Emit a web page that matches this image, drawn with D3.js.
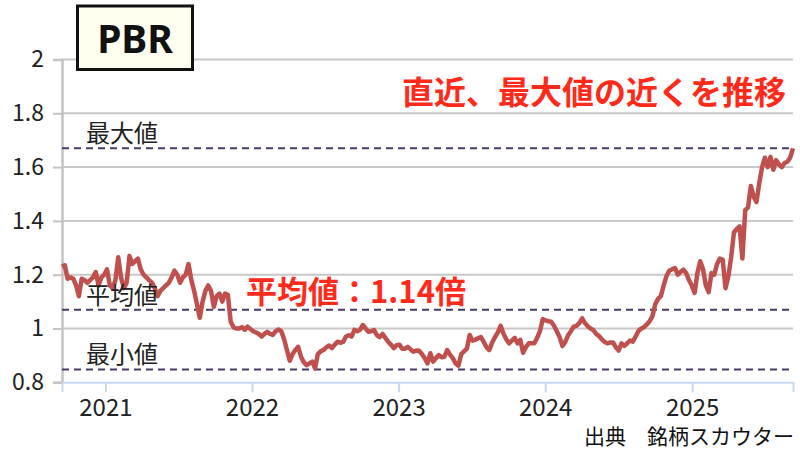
<!DOCTYPE html>
<html>
<head>
<meta charset="utf-8">
<script src="https://cdn.jsdelivr.net/npm/d3@7"></script>
<style>
  body { margin: 0; background: #fff; }
  svg { display: block; font-family: "Noto Sans CJK JP", "Noto Sans", sans-serif; }
</style>
</head>
<body>
<div id="chart"></div>
<script>
// weekly PBR values, first week 2020-09-15
let startDate = '2020-09-15'
let stepDays = 7
let pbrValues = [
  1.23, 1.235, 1.185, 1.19, 1.185, 1.16, 1.12, 1.185, 1.18, 1.17,
  1.18, 1.19, 1.21, 1.16, 1.19, 1.20, 1.22, 1.16, 1.15, 1.18,
  1.265, 1.19, 1.15, 1.17, 1.27, 1.24, 1.25, 1.26, 1.22, 1.20,
  1.19, 1.18, 1.17, 1.15, 1.12, 1.14, 1.15, 1.16, 1.17, 1.19,
  1.215, 1.20, 1.17, 1.19, 1.20, 1.24, 1.18, 1.14, 1.09, 1.04,
  1.10, 1.14, 1.16, 1.14, 1.08, 1.12, 1.13, 1.10, 1.13, 1.125,
  1.025, 1.005, 1.00, 1.00, 1.005, 0.995, 1.007, 0.998, 0.99, 0.985,
  0.98, 0.97, 0.98, 0.988, 0.98, 0.976, 0.99, 0.996, 0.99, 0.96,
  0.92, 0.88, 0.905, 0.92, 0.932, 0.895, 0.875, 0.864, 0.87, 0.877,
  0.852, 0.905, 0.915, 0.92, 0.93, 0.937, 0.927, 0.94, 0.951, 0.947,
  0.95, 0.97, 0.975, 0.97, 0.995, 0.99, 0.995, 1.013, 1.00, 0.988,
  0.99, 0.994, 0.975, 0.968, 0.98, 0.965, 0.951, 0.94, 0.927, 0.938,
  0.94, 0.925, 0.925, 0.932, 0.922, 0.914, 0.918, 0.917, 0.905, 0.89,
  0.87, 0.908, 0.877, 0.89, 0.901, 0.893, 0.895, 0.92, 0.903, 0.89,
  0.87, 0.862, 0.905, 0.915, 0.925, 0.976, 0.955, 0.958, 0.964, 0.968,
  0.95, 0.93, 0.92, 0.948, 0.968, 0.985, 1.01, 0.982, 0.96, 0.945,
  0.955, 0.965, 0.945, 0.958, 0.91, 0.93, 0.945, 0.945, 0.945, 0.965,
  0.99, 1.035, 1.03, 1.027, 1.025, 1.01, 0.99, 0.968, 0.935, 0.95,
  0.975, 0.99, 1.007, 1.01, 1.02, 1.038, 1.02, 1.008, 1.00, 0.994,
  0.98, 0.972, 0.96, 0.95, 0.945, 0.948, 0.948, 0.93, 0.918, 0.945,
  0.935, 0.945, 0.955, 0.951, 0.97, 0.99, 1.00, 1.005, 1.015, 1.027,
  1.046, 1.09, 1.11, 1.12, 1.16, 1.195, 1.215, 1.22, 1.225, 1.20,
  1.21, 1.219, 1.206, 1.18, 1.16, 1.132, 1.206, 1.25, 1.22, 1.16,
  1.135, 1.206, 1.20, 1.24, 1.26, 1.256, 1.15, 1.194, 1.265, 1.357,
  1.37, 1.38, 1.26, 1.44, 1.45, 1.53, 1.49, 1.47, 1.54, 1.60,
  1.635, 1.60, 1.638, 1.59, 1.626, 1.61, 1.60, 1.615, 1.62, 1.635,
  1.67
]

let yTicks = [0.8, 1, 1.2, 1.4, 1.6, 1.8, 2]
let xTickYears = [2021, 2022, 2023, 2024, 2025]

let refLines = [
  { name: '最大値', value: 1.67 },
  { name: '平均値', value: 1.07 },
  { name: '最小値', value: 0.848 }
]
let avgNote = '平均値：1.14倍'
let headline = '直近、最大値の近くを推移'
let sourceNote = '出典　銘柄スカウター'
let titleText = 'PBR'

let width = 800,
    height = 450

let margin = {
  'top' : 59.5,
  'right' : 7,
  'bottom' : 67.7,
  'left' : 62
}

let parse = d3.timeParse('%Y-%m-%d')
let start = parse(startDate)
let series = pbrValues.map((v, i) => ({ date: d3.timeDay.offset(start, i * stepDays), value: v }))

let svg = d3.select('#chart').append('svg')
    .attr('width', width)
    .attr('height', height)

let x = d3.scaleTime()
    .domain(d3.extent(series, d => d.date))
    .range([margin.left, width - margin.right])

let y = d3.scaleLinear()
    .domain([0.8, 2])
    .range([height - margin.bottom, margin.top])

// horizontal grid
svg.append('g')
  .selectAll('line')
  .data(yTicks.slice(1))
  .enter().append('line')
    .attr('x1', margin.left)
    .attr('x2', width - margin.right)
    .attr('y1', d => y(d))
    .attr('y2', d => y(d))
    .attr('stroke', '#c8c8c8')
    .attr('stroke-width', 2)

// y axis
let yAxis = svg.append('g')
    .attr('transform', `translate(${margin.left},0)`)
    .call(d3.axisLeft(y).tickValues(yTicks).tickSize(9).tickPadding(9).tickFormat(d3.format('')))
yAxis.select('.domain').attr('stroke', '#c4c4c4').attr('stroke-width', 2.5)
yAxis.selectAll('.tick line').attr('stroke', '#c4c4c4').attr('stroke-width', 2)
yAxis.selectAll('text')
    .attr('fill', '#222')
    .style('font-size', '23px')
    .style('font-family', '"Noto Sans CJK JP", sans-serif')

// x axis
let xAxis = svg.append('g')
    .attr('transform', `translate(0,${y(0.8)})`)
    .call(d3.axisBottom(x)
      .tickValues(xTickYears.map(yr => new Date(yr, 0, 1)))
      .tickSize(10).tickPadding(7)
      .tickFormat(d3.timeFormat('%Y')))
xAxis.select('.domain').attr('stroke', '#c9d8ef').attr('stroke-width', 2)
xAxis.selectAll('.tick line').attr('stroke', '#c9d8ef').attr('stroke-width', 2)
xAxis.selectAll('text')
    .attr('fill', '#222')
    .style('font-size', '24px')
    .style('font-family', '"Noto Sans CJK JP", sans-serif')

// reference lines
svg.append('g')
  .selectAll('line')
  .data(refLines)
  .enter().append('line')
    .attr('x1', margin.left)
    .attr('x2', width - margin.right)
    .attr('y1', d => y(d.value))
    .attr('y2', d => y(d.value))
    .attr('stroke', '#4b3a6b')
    .attr('stroke-width', 2)
    .attr('stroke-dasharray', '7,5')

// PBR line
let line = d3.line()
    .x(d => x(d.date))
    .y(d => y(d.value))

svg.append('path')
    .datum(series)
    .attr('d', line)
    .attr('fill', 'none')
    .attr('stroke', '#c0504d')
    .attr('stroke-width', 4.5)
    .attr('stroke-linejoin', 'round')

// reference labels
svg.append('g')
  .selectAll('text')
  .data(refLines)
  .enter().append('text')
    .attr('x', margin.left + 24)
    .attr('y', d => y(d.value) - 6)
    .attr('fill', '#222')
    .style('font-size', '24px')
    .text(d => d.name)

// red notes
svg.append('text')
    .attr('x', 246)
    .attr('y', 303)
    .attr('fill', '#ff2a1a')
    .style('font-size', '31px')
    .style('font-weight', 'bold')
    .text(avgNote)

svg.append('text')
    .attr('x', 786)
    .attr('y', 104)
    .attr('text-anchor', 'end')
    .attr('fill', '#ff2a1a')
    .style('font-size', '32px')
    .style('font-weight', 'bold')
    .text(headline)

// title box
svg.append('rect')
    .attr('x', 77.5)
    .attr('y', 6)
    .attr('width', 115)
    .attr('height', 63.5)
    .attr('fill', '#fffff0')
    .attr('stroke', '#111')
    .attr('stroke-width', 3)

svg.append('text')
    .attr('x', 135)
    .attr('y', 53)
    .attr('text-anchor', 'middle')
    .attr('fill', '#111')
    .style('font-size', '39px')
    .style('font-weight', 'bold')
    .style('font-family', '"Noto Sans", sans-serif')
    .text(titleText)

// source
svg.append('text')
    .attr('x', 794)
    .attr('y', 444)
    .attr('text-anchor', 'end')
    .attr('fill', '#111')
    .style('font-size', '21px')
    .text(sourceNote)
</script>
</body>
</html>
